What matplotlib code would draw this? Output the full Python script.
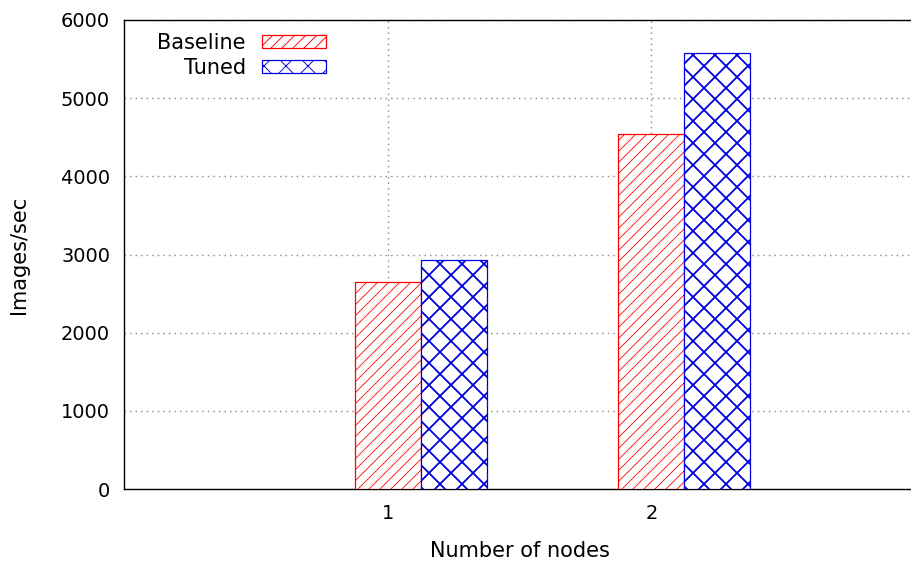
import matplotlib
matplotlib.use("Agg")
import matplotlib.pyplot as plt
import numpy as np

nodes = [1, 2]
baseline = [2645, 4545]
tuned = [2925, 5580]
series_names = ["Baseline", "Tuned"]

# render at a low dpi so the hatch tiles come out as dense as the reference
DPI = 66
S = 100.0 / DPI  # scale for sizes given in points at 100 dpi

plt.rcParams['font.family'] = ['DejaVu Sans']

fig = plt.figure(figsize=(911 / DPI, 566 / DPI), dpi=DPI)
ax = fig.add_axes([0.1361, 0.136, 0.8683, 0.8287])

x = np.array(nodes, dtype=float)
w = 0.25

with plt.rc_context({'hatch.linewidth': 0.6 * S}):
    ax.bar(x, baseline, w, facecolor='white', edgecolor='#ff0000',
           hatch='//', linewidth=0.9 * S, label=series_names[0], zorder=3)
with plt.rc_context({'hatch.linewidth': 1.3 * S}):
    ax.bar(x + w, tuned, w, facecolor='white', edgecolor='#0000dd',
           hatch='x', linewidth=0.9 * S, label=series_names[1], zorder=3)

ax.set_xlim(0, 3)
ax.set_ylim(0, 6000)
ax.set_xticks(nodes)
ax.set_yticks(range(0, 6001, 1000))
ax.tick_params(axis='both', length=0, labelsize=14 * S)
ax.tick_params(axis='x', pad=11 * S)
ax.tick_params(axis='y', pad=10 * S)

ax.grid(True, color='#888888', linestyle=(0, (1, 3)), linewidth=1.0 * S, zorder=0)
ax.set_axisbelow(True)
for s in ax.spines.values():
    s.set_linewidth(1.0 * S)
    s.set_color('black')

ax.set_xlabel("Number of nodes", fontsize=15 * S, labelpad=13 * S)
ax.set_ylabel("Images/sec", fontsize=15 * S, labelpad=23 * S)

ax.legend(loc='upper left', bbox_to_anchor=(0.029, 0.995), frameon=False,
          borderpad=0, fontsize=15 * S, markerfirst=False, handlelength=3.1,
          handleheight=0.58, labelspacing=0.25, handletextpad=0.77)

fig.savefig("out.png", dpi=DPI)
